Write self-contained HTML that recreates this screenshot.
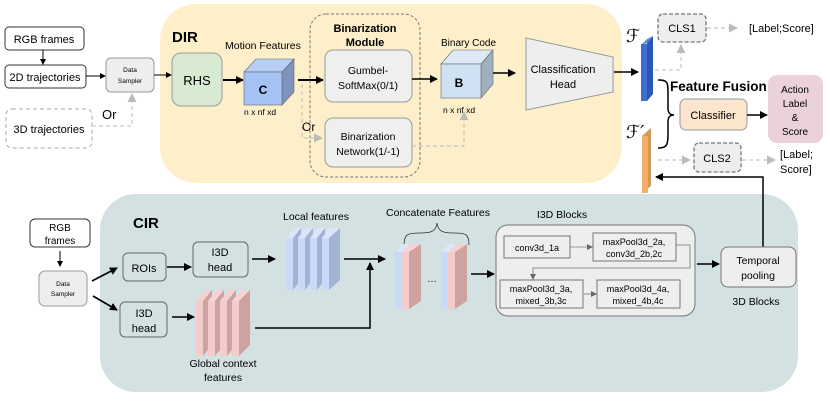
<!DOCTYPE html>
<html><head><meta charset="utf-8"><style>
html,body{margin:0;padding:0;background:#fff;}
svg{display:block;font-family:"Liberation Sans",Arial,sans-serif;}
</style></head><body>
<svg width="830" height="415" viewBox="0 0 830 415" xmlns="http://www.w3.org/2000/svg">
<defs>
<marker id="ab" markerWidth="8" markerHeight="8" refX="7" refY="4" orient="auto" markerUnits="userSpaceOnUse"><path d="M0,0 L8,4 L0,8 z" fill="#000"/></marker>
<marker id="as" markerWidth="6" markerHeight="6" refX="5" refY="3" orient="auto" markerUnits="userSpaceOnUse"><path d="M0,0 L6,3 L0,6 z" fill="#000"/></marker>
<marker id="ag" markerWidth="9" markerHeight="9" refX="8" refY="4.5" orient="auto" markerUnits="userSpaceOnUse"><path d="M0,0 L9,4.5 L0,9 z" fill="#bbb"/></marker>
<marker id="ad" markerWidth="6" markerHeight="6" refX="5" refY="3" orient="auto" markerUnits="userSpaceOnUse"><path d="M0,0 L6,3 L0,6 z" fill="#666"/></marker>
</defs>

<rect x="160" y="4" width="462" height="179" rx="36" fill="#fdefc9"/>
<rect x="100" y="194" width="698" height="198" rx="36" fill="#d3e1e2"/>

<rect x="5" y="27" width="79" height="23" rx="4" fill="#fff" stroke="#333"/>
<text x="44" y="43" font-size="11" text-anchor="middle">RGB frames</text>
<line x1="43" y1="50" x2="43" y2="64" stroke="#000" marker-end="url(#as)"/>
<rect x="5" y="65" width="81" height="23" rx="4" fill="#fff" stroke="#333"/>
<text x="45" y="81" font-size="11" text-anchor="middle">2D trajectories</text>
<line x1="86" y1="76" x2="105" y2="76" stroke="#000" marker-end="url(#as)"/>
<rect x="106" y="58" width="48" height="34" rx="5" fill="#eee" stroke="#999"/>
<text x="130" y="72" font-size="6.5" text-anchor="middle">Data</text>
<text x="130" y="83" font-size="6.5" text-anchor="middle">Sampler</text>
<rect x="6" y="109" width="86" height="39" rx="6" fill="#fff" stroke="#aaa" stroke-dasharray="4,3"/>
<text x="49" y="133" font-size="11" text-anchor="middle">3D trajectories</text>
<text x="102" y="119" font-size="13">Or</text>
<polyline points="92,126 132,126 132,94" fill="none" stroke="#bbb" stroke-dasharray="4,3" marker-end="url(#ag)"/>
<line x1="154" y1="75" x2="171" y2="75" stroke="#000" marker-end="url(#as)"/>

<text x="172" y="42" font-size="15" font-weight="bold">DIR</text>
<rect x="172" y="53" width="50" height="53" rx="9" fill="#d9ead3" stroke="#999"/>
<text x="197" y="85" font-size="13" text-anchor="middle">RHS</text>
<line x1="223" y1="80" x2="243" y2="80" stroke="#000" stroke-width="2" marker-end="url(#ab)"/>
<text x="225" y="49" font-size="10.5">Motion Features</text>
<polygon points="244,72 256,59 294,59 282,72" fill="#b7cff5" stroke="#666" stroke-width="0.6"/>
<polygon points="282,72 294,59 294,92 282,105" fill="#7e93bd" stroke="#666" stroke-width="0.6"/>
<rect x="244" y="72" width="38" height="33" fill="#a4c2f4" stroke="#666" stroke-width="0.6"/>
<text x="263" y="94" font-size="12" font-weight="bold" text-anchor="middle">C</text>
<text x="244" y="115" font-size="8.5">n x nf xd</text>
<line x1="298" y1="80" x2="323" y2="80" stroke="#000" stroke-width="2" marker-end="url(#ab)"/>
<polyline points="302,84 302,138 322,138" fill="none" stroke="#bbb" stroke-dasharray="4,3" marker-end="url(#ag)"/>
<text x="302" y="131" font-size="12">Or</text>

<rect x="310" y="14" width="110" height="163" rx="16" fill="none" stroke="#777" stroke-dasharray="3,2"/>
<text x="365" y="32" font-size="11" font-weight="bold" text-anchor="middle">Binarization</text>
<text x="365" y="46" font-size="11" font-weight="bold" text-anchor="middle">Module</text>
<rect x="325" y="50" width="87" height="52" rx="8" fill="#efefef" stroke="#999"/>
<text x="368" y="74" font-size="10.5" text-anchor="middle">Gumbel-</text>
<text x="368" y="89" font-size="10.5" text-anchor="middle">SoftMax(0/1)</text>
<rect x="325" y="118" width="87" height="49" rx="8" fill="#efefef" stroke="#999"/>
<text x="368" y="140" font-size="10.5" text-anchor="middle">Binarization</text>
<text x="368" y="155" font-size="10.5" text-anchor="middle">Network(1/-1)</text>

<line x1="412" y1="79" x2="437" y2="79" stroke="#000" stroke-width="1.6" marker-end="url(#ab)"/>
<polyline points="412,146 464,146 464,112" fill="none" stroke="#bbb" stroke-dasharray="4,3" marker-end="url(#ag)"/>
<text x="441" y="46" font-size="10">Binary Code</text>
<polygon points="441,64 453,50 493,50 481,64" fill="#dde9f5" stroke="#666" stroke-width="0.6"/>
<polygon points="481,64 493,50 493,84 481,98" fill="#a0b0bf" stroke="#666" stroke-width="0.6"/>
<rect x="441" y="64" width="40" height="34" fill="#cfe2f3" stroke="#666" stroke-width="0.6"/>
<text x="459" y="87" font-size="12" font-weight="bold" text-anchor="middle">B</text>
<text x="443" y="113" font-size="8.5">n x nf xd</text>
<line x1="493" y1="73" x2="515" y2="73" stroke="#000" stroke-width="1.6" marker-end="url(#ab)"/>
<polygon points="526,38 613,57 613,92 526,110" fill="#eee" stroke="#999"/>
<text x="563" y="73" font-size="11" text-anchor="middle">Classification</text>
<text x="563" y="88" font-size="11" text-anchor="middle">Head</text>
<line x1="614" y1="72" x2="638" y2="72" stroke="#000" stroke-width="1.6" marker-end="url(#ab)"/>

<polygon points="641,45 647,39 653,36 647,43" fill="#5b8de0"/>
<polygon points="647,43 653,36 653,94 647,101" fill="#2a58b5"/>
<rect x="641" y="44" width="6" height="57" fill="#3c6fd1"/>
<text x="626" y="42" font-size="18" font-style="italic" font-family="DejaVu Sans,sans-serif">ℱ</text>
<polygon points="642,136 651,128 651,186 642,193" fill="#d09a5c"/>
<rect x="642" y="136" width="6" height="57" fill="#f4b06b"/>
<text x="626" y="138" font-size="18" font-style="italic" font-family="DejaVu Sans,sans-serif">ℱ′</text>

<rect x="658" y="14" width="48" height="28" rx="5" fill="#eee" stroke="#777" stroke-dasharray="4,2" stroke-width="1.3"/>
<text x="682" y="32" font-size="11" text-anchor="middle">CLS1</text>
<polyline points="655,70 681,70 681,45" fill="none" stroke="#bbb" stroke-dasharray="4,3" marker-end="url(#ag)"/>
<line x1="707" y1="28" x2="737" y2="28" stroke="#bbb" stroke-dasharray="4,3" marker-end="url(#ag)"/>
<text x="749" y="32" font-size="11">[Label;Score]</text>

<path d="M658,80 C668,80 668,82 668,95 L668,108 C668,113 670,115 674,115 C670,115 668,117 668,122 L668,135 C668,146 666,148 658,148" fill="none" stroke="#000" stroke-width="1.5"/>
<text x="670" y="91" font-size="13.5" font-weight="bold">Feature Fusion</text>
<rect x="680" y="99" width="67" height="31" rx="6" fill="#fce5cd" stroke="#999"/>
<text x="713" y="119" font-size="11" text-anchor="middle">Classifier</text>
<line x1="747" y1="115" x2="767" y2="115" stroke="#000" stroke-width="1.6" marker-end="url(#ab)"/>
<rect x="768" y="75" width="55" height="68" rx="9" fill="#ead1dc"/>
<text x="795" y="93" font-size="10" text-anchor="middle">Action</text>
<text x="795" y="107" font-size="10" text-anchor="middle">Label</text>
<text x="795" y="121" font-size="10" text-anchor="middle">&amp;</text>
<text x="795" y="135" font-size="10" text-anchor="middle">Score</text>

<rect x="694" y="143" width="47" height="29" rx="5" fill="#eee" stroke="#777" stroke-dasharray="4,2" stroke-width="1.3"/>
<text x="717" y="162" font-size="11" text-anchor="middle">CLS2</text>
<line x1="658" y1="160" x2="690" y2="160" stroke="#bbb" stroke-dasharray="4,3" marker-end="url(#ag)"/>
<line x1="742" y1="160" x2="775" y2="160" stroke="#bbb" stroke-dasharray="4,3" marker-end="url(#ag)"/>
<text x="780" y="158" font-size="11">[Label;</text>
<text x="780" y="173" font-size="11">Score]</text>
<polyline points="763,247 763,177 656,177" fill="none" stroke="#000" stroke-width="1.5" marker-end="url(#ab)"/>

<text x="133" y="228" font-size="15" font-weight="bold">CIR</text>
<rect x="30" y="219" width="60" height="28" rx="5" fill="#fff" stroke="#333"/>
<text x="60" y="231" font-size="10" text-anchor="middle">RGB</text>
<text x="60" y="244" font-size="10" text-anchor="middle">frames</text>
<line x1="60" y1="251" x2="60" y2="266" stroke="#000" marker-end="url(#as)"/>
<rect x="39" y="271" width="48" height="35" rx="6" fill="#eee" stroke="#999"/>
<text x="63" y="286" font-size="6.5" text-anchor="middle">Data</text>
<text x="63" y="296" font-size="6.5" text-anchor="middle">Sampler</text>
<line x1="92" y1="281" x2="117" y2="268" stroke="#000" stroke-width="1.6" marker-end="url(#ab)"/>
<line x1="93" y1="296" x2="117" y2="310" stroke="#000" stroke-width="1.6" marker-end="url(#ab)"/>
<rect x="123" y="253" width="43" height="28" rx="5" fill="none" stroke="#666"/>
<text x="144" y="272" font-size="11" text-anchor="middle">ROIs</text>
<line x1="167" y1="267" x2="191" y2="267" stroke="#000" stroke-width="1.6" marker-end="url(#ab)"/>
<rect x="193" y="242" width="55" height="35" rx="5" fill="none" stroke="#666"/>
<text x="220" y="256" font-size="11" text-anchor="middle">I3D</text>
<text x="220" y="271" font-size="11" text-anchor="middle">head</text>
<line x1="252" y1="259" x2="275" y2="259" stroke="#000" stroke-width="1.6" marker-end="url(#ab)"/>
<rect x="120" y="302" width="47" height="35" rx="5" fill="none" stroke="#666"/>
<text x="144" y="317" font-size="11" text-anchor="middle">I3D</text>
<text x="144" y="332" font-size="11" text-anchor="middle">head</text>
<line x1="172" y1="317" x2="194" y2="317" stroke="#000" stroke-width="1.6" marker-end="url(#ab)"/>

<text x="283" y="220" font-size="10.5">Local features</text>
<g stroke="none">
<polygon points="286,238 294,228 301,228 293,238" fill="#dbe6fb"/><polygon points="293,238 301,228 301,280 293,290" fill="#a3b3d3"/><rect x="286" y="238" width="7" height="52" fill="#c9daf8"/>
<polygon points="298,238 306,228 313,228 305,238" fill="#dbe6fb"/><polygon points="305,238 313,228 313,280 305,290" fill="#a3b3d3"/><rect x="298" y="238" width="7" height="52" fill="#c9daf8"/>
<polygon points="310,238 318,228 325,228 317,238" fill="#dbe6fb"/><polygon points="317,238 325,228 325,280 317,290" fill="#a3b3d3"/><rect x="310" y="238" width="7" height="52" fill="#c9daf8"/>
<polygon points="322,238 330,228 340,228 332,238" fill="#dbe6fb"/><polygon points="329,238 340,228 340,280 329,290" fill="#a3b3d3"/><rect x="322" y="238" width="7" height="52" fill="#c9daf8"/>
</g>
<g stroke="none">
<polygon points="196,301 205,290 212,290 203,301" fill="#f6d3d3"/><polygon points="203,301 212,290 212,345 203,356" fill="#cfa2a2"/><rect x="196" y="301" width="7" height="55" fill="#f4cccc"/>
<polygon points="208,301 217,290 224,290 215,301" fill="#f6d3d3"/><polygon points="215,301 224,290 224,345 215,356" fill="#cfa2a2"/><rect x="208" y="301" width="7" height="55" fill="#f4cccc"/>
<polygon points="220,301 229,290 236,290 227,301" fill="#f6d3d3"/><polygon points="227,301 236,290 236,345 227,356" fill="#cfa2a2"/><rect x="220" y="301" width="7" height="55" fill="#f4cccc"/>
<polygon points="232,301 241,290 250,290 241,301" fill="#f6d3d3"/><polygon points="239,301 250,290 250,345 239,356" fill="#cfa2a2"/><rect x="232" y="301" width="7" height="55" fill="#f4cccc"/>
</g>
<text x="223" y="367" font-size="10.5" text-anchor="middle">Global context</text>
<text x="223" y="381" font-size="10.5" text-anchor="middle">features</text>
<polyline points="255,328 370,328 370,263" fill="none" stroke="#000" stroke-width="1.5" marker-end="url(#ab)"/>
<line x1="344" y1="259" x2="385" y2="259" stroke="#000" stroke-width="1.5" marker-end="url(#ab)"/>

<text x="438" y="216" font-size="10.5" text-anchor="middle">Concatenate Features</text>
<path d="M404,245 C404,234 408,233 420,233 C430,233 436,232 437,223 C438,232 444,233 454,233 C466,233 469,234 469,245" fill="none" stroke="#333" stroke-width="0.8"/>
<g stroke="none">
<polygon points="395,252 403,244 410,244 402,252" fill="#dbe6fb"/><rect x="395" y="252" width="8" height="57" fill="#c9daf8"/>
<polygon points="402,252 410,244 421,244 413,252" fill="#f6d3d3"/><polygon points="409,252 421,244 421,301 409,309" fill="#cfa2a2"/><rect x="402" y="252" width="7" height="57" fill="#f4cccc"/>
<polygon points="441,252 449,244 456,244 448,252" fill="#dbe6fb"/><rect x="441" y="252" width="8" height="57" fill="#c9daf8"/>
<polygon points="448,252 456,244 467,244 459,252" fill="#f6d3d3"/><polygon points="455,252 467,244 467,301 455,309" fill="#cfa2a2"/><rect x="448" y="252" width="7" height="57" fill="#f4cccc"/>
</g>
<text x="432" y="282" font-size="10" text-anchor="middle">…</text>
<line x1="471" y1="274" x2="494" y2="274" stroke="#000" stroke-width="1.5" marker-end="url(#ab)"/>

<text x="562" y="218" font-size="10.5" text-anchor="middle">I3D Blocks</text>
<rect x="496" y="225" width="199" height="91" rx="12" fill="#eee" stroke="#777"/>
<rect x="504" y="236" width="66" height="22" fill="#eee" stroke="#777"/>
<text x="537" y="251" font-size="9" text-anchor="middle">conv3d_1a</text>
<line x1="570" y1="247" x2="592" y2="247" stroke="#777" stroke-width="0.8" marker-end="url(#ad)"/>
<rect x="593" y="233" width="83" height="28" fill="#eee" stroke="#777"/>
<text x="634" y="245" font-size="9" text-anchor="middle">maxPool3d_2a,</text>
<text x="634" y="257" font-size="9" text-anchor="middle">conv3d_2b,2c</text>
<polyline points="676,245 690,245 690,268 533,268 533,279" fill="none" stroke="#777" stroke-width="0.8" marker-end="url(#ad)"/>
<rect x="500" y="280" width="83" height="28" fill="#eee" stroke="#777"/>
<text x="541" y="292" font-size="9" text-anchor="middle">maxPool3d_3a,</text>
<text x="541" y="304" font-size="9" text-anchor="middle">mixed_3b,3c</text>
<line x1="584" y1="294" x2="596" y2="294" stroke="#777" stroke-width="0.8" marker-end="url(#ad)"/>
<rect x="597" y="280" width="83" height="28" fill="#eee" stroke="#777"/>
<text x="638" y="292" font-size="9" text-anchor="middle">maxPool3d_4a,</text>
<text x="638" y="304" font-size="9" text-anchor="middle">mixed_4b,4c</text>
<line x1="697" y1="264" x2="719" y2="264" stroke="#000" stroke-width="1.5" marker-end="url(#ab)"/>
<rect x="721" y="247" width="75" height="40" rx="7" fill="#eee" stroke="#777"/>
<text x="758" y="264" font-size="10.5" text-anchor="middle">Temporal</text>
<text x="758" y="279" font-size="10.5" text-anchor="middle">pooling</text>
<text x="756" y="305" font-size="10.5" text-anchor="middle">3D Blocks</text>
</svg>
</body></html>
